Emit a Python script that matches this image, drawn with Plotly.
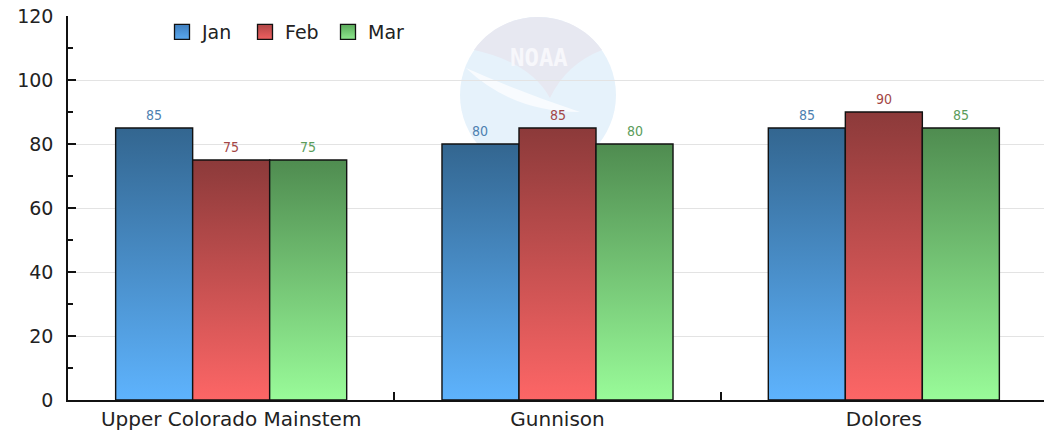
import plotly.graph_objects as go

categories = ["Upper Colorado Mainstem", "Gunnison", "Dolores"]
series_names = ["Jan", "Feb", "Mar"]
jan = [85, 80, 85]
feb = [75, 85, 90]
mar = [75, 80, 85]
y_ticks = [0, 20, 40, 60, 80, 100, 120]

values = [jan, feb, mar]
top_colors = ["#336690", "#8c3a3a", "#4f8c50"]
bottom_colors = ["#5eb3fd", "#fd6666", "#99fb99"]
legend_top = ["#3f7fbf", "#b04646", "#5aaa5a"]
legend_bottom = ["#5aa8ee", "#ee6060", "#8ee88e"]
label_colors = ["#4d80b0", "#a34646", "#5a9c5a"]

bar_w = 0.236
offsets = [-bar_w, 0.0, bar_w]

# browser page has an 8px body margin; compensate so the plot area lands
# at screen x 68..1047, y 16..400
OFF = 8
W, H = 1052 - OFF, 432 - OFF
L, T = 68 - OFF, 16 - OFF
R = W - (1047 - OFF)
B = H - (400 - OFF)
pw, ph = W - L - R, H - T - B

def px_x(p):  # screen px -> paper
    return (p - OFF - L) / pw

def px_y(p):
    return (H - B - (p - OFF)) / ph

fig = go.Figure()

# faint NOAA-style watermark (decorative)
def P(x, y):
    return "{:.4f},{:.4f}".format(px_x(x), px_y(y))

cx0, cx1, cy0, cy1 = 460, 616, 17, 173
shapes = [
    dict(type="circle", xref="paper", yref="paper", x0=px_x(cx0), x1=px_x(cx1),
         y0=px_y(cy1), y1=px_y(cy0), fillcolor="#e6f2fb", line=dict(width=0), layer="below"),
    dict(type="path", xref="paper", yref="paper",
         path="M " + P(466, 68) + " Q " + P(520, 92) + " " + P(580, 112)
              + " Q " + P(512, 112) + " " + P(466, 68) + " Z",
         fillcolor="#f8fbfe", line=dict(width=0), layer="below"),
    dict(type="path", xref="paper", yref="paper",
         path="M " + P(474, 50) + " C " + P(505, 6) + " " + P(571, 6) + " " + P(602, 50)
              + " Q " + P(566, 64) + " " + P(550, 98)
              + " Q " + P(530, 62) + " " + P(474, 50) + " Z",
         fillcolor="#e7e8f1", line=dict(width=0), layer="below"),
]
annotations = [
    dict(text="<b>NOAA</b>", xref="paper", yref="paper", x=px_x(539), y=px_y(58),
         showarrow=False, font=dict(family="DejaVu Sans Mono", size=24, color="#f7f7fb"),
         xanchor="center", yanchor="middle"),
]

for si, name in enumerate(series_names):
    for ci, v in enumerate(values[si]):
        x0 = ci + offsets[si] - bar_w / 2
        x1 = ci + offsets[si] + bar_w / 2
        fig.add_trace(go.Scatter(
            x=[x0, x0, x1, x1, x0], y=[0, v, v, 0, 0],
            mode="lines", fill="toself",
            fillgradient=dict(type="vertical", start=0, stop=v,
                              colorscale=[[0, bottom_colors[si]], [1, top_colors[si]]]),
            line=dict(color="#111111", width=1.4),
            name=name, legendgroup=name, showlegend=False,
            hoverinfo="skip",
        ))
        annotations.append(dict(
            x=ci + offsets[si], y=v, xref="x", yref="y", text=str(v), showarrow=False,
            yshift=13, xanchor="center", yanchor="middle",
            font=dict(family="DejaVu Sans Condensed", size=14, color=label_colors[si]),
        ))
    # legend entry
    fig.add_trace(go.Scatter(
        x=[None], y=[None], mode="markers", name=name, legendgroup=name,
        marker=dict(symbol="square", size=15, color=legend_top[si],
                    gradient=dict(type="vertical", color=legend_bottom[si]),
                    line=dict(color="#111111", width=1.3)),
        hoverinfo="skip",
    ))

fig.update_layout(
    width=W, height=H,
    margin=dict(l=L, r=R, t=T, b=B, pad=0, autoexpand=False),
    plot_bgcolor="white", paper_bgcolor="white",
    font=dict(family="DejaVu Sans", size=20, color="#222222"),
    shapes=shapes,
    annotations=annotations,
    showlegend=True,
    legend=dict(orientation="h", x=px_x(162), xanchor="left", y=px_y(32), yanchor="middle",
                bgcolor="white", borderwidth=0, font=dict(family="DejaVu Sans", size=19, color="#222222"),
                itemsizing="trace", itemwidth=30, traceorder="normal",
                entrywidth=38, entrywidthmode="pixels"),
    xaxis=dict(range=[-0.5, 2.5], tickvals=list(range(len(categories))), ticktext=categories,
               ticks="", showgrid=False, zeroline=False, showline=True, linecolor="#111111",
               linewidth=1.5, fixedrange=True, automargin=False,
               minor=dict(tickvals=[0.5, 1.5, 2.5], ticks="inside", ticklen=8,
                          tickcolor="#111111", tickwidth=1.5, showgrid=False)),
    yaxis=dict(range=[0, 120], tickvals=y_ticks, ticks="inside", ticklen=8, tickwidth=1.5,
               tickcolor="#111111", showline=True, linecolor="#111111", linewidth=1.5,
               showgrid=True, gridcolor="#e3e3e3", gridwidth=1, zeroline=False,
               ticklabelstandoff=9, ticklabeloverflow="allow", automargin=False,
               tickfont=dict(size=19),
               minor=dict(dtick=10, ticks="inside", ticklen=5, tickwidth=1.5,
                          tickcolor="#111111", showgrid=False)),
)

fig.write_html("out.html")
